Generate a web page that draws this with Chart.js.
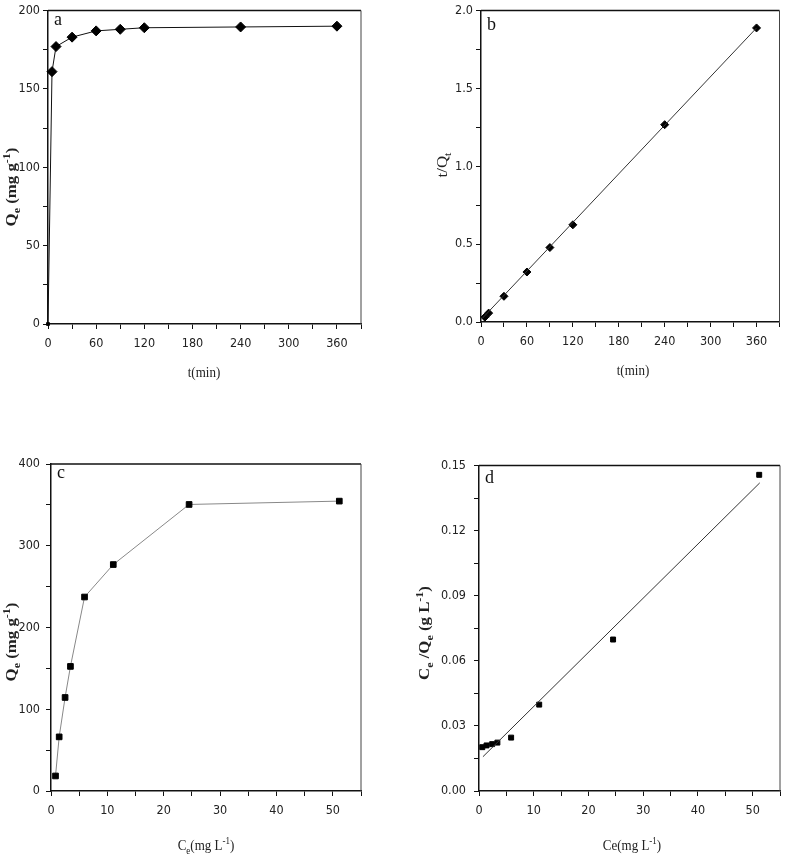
<!DOCTYPE html>
<html><head><meta charset="utf-8">
<script src="https://cdn.jsdelivr.net/npm/chart.js@4.4.1/dist/chart.umd.min.js"></script>
<style>
html,body{margin:0;padding:0;background:#fff;width:787px;height:856px;overflow:hidden;position:relative}
canvas{position:absolute}
</style></head><body>
<canvas id="ca" width="397" height="385" style="left:-2px;top:0px"></canvas>
<canvas id="cb" width="360" height="385" style="left:427px;top:0px"></canvas>
<canvas id="cc" width="398" height="406" style="left:-3px;top:450px"></canvas>
<canvas id="cd" width="373" height="406" style="left:414px;top:450px"></canvas>
<script>
// ---- data ----
const timeMin      = [0, 5, 10, 30, 60, 90, 120, 240, 360];
const qtKinetic    = [0, 161, 177, 183, 187, 188, 189, 189.5, 190];
const timeLinear   = [5, 10, 30, 60, 90, 120, 240, 360];
const tOverQt      = [0.031, 0.057, 0.165, 0.321, 0.478, 0.624, 1.267, 1.888];
const fitB_t       = [2, 360];
const fitB_y       = [0.025, 1.888];
const ceIso        = [0.8, 1.45, 2.5, 3.45, 5.95, 11.05, 24.5, 51.15];
const qeIso        = [18.4, 66.2, 114.4, 152.4, 237.3, 277, 350.5, 354.6];
const ceLang       = [0.6, 1.38, 2.4, 3.36, 5.87, 11.0, 24.5, 51.2];
const ceOverQe     = [0.0202, 0.021, 0.0216, 0.0223, 0.0246, 0.0398, 0.0698, 0.1457];
const fitD_x       = [0.72, 51.3];
const fitD_y       = [0.0158, 0.142];
// tick labels
const timeTickLabels = [0, 60, 120, 180, 240, 300, 360];
const qaTickLabels   = [0, 50, 100, 150, 200];
const tqTickLabels   = [0, 0.5, 1.0, 1.5, 2.0];
const ceTickLabels   = [0, 10, 20, 30, 40, 50];
const qcTickLabels   = [0, 100, 200, 300, 400];
const cqTickLabels   = [0, 0.03, 0.06, 0.09, 0.12, 0.15];

const pts = (xs, ys) => xs.map((x, i) => ({x, y: ys[i]}));

const SERIF = "'Liberation Serif','Times New Roman',serif";
const NARROW = "'Liberation Sans Narrow','Arial Narrow','DejaVu Sans Condensed','Liberation Sans',Arial,sans-serif";

// draws a title made of normal / subscript / superscript runs
function drawRich(ctx, t) {
  const main = t.size, small = Math.round(t.size * 0.68);
  const w = t.bold ? 'bold ' : '';
  const fontOf = s => w + (s === 'n' ? main : small) + 'px ' + SERIF;
  let total = 0;
  const widths = t.segs.map(([txt, s]) => { ctx.font = fontOf(s); const m = ctx.measureText(txt).width; total += m; return m; });
  ctx.save();
  ctx.translate(t.cx, t.cy);
  ctx.rotate(t.rot || 0);
  ctx.scale(t.sx || 1, t.sy || 1);
  ctx.fillStyle = '#222';
  ctx.textBaseline = 'alphabetic';
  ctx.textAlign = 'left';
  let x = -total / 2;
  const base = main * 0.35;
  t.segs.forEach(([txt, s], i) => {
    ctx.font = fontOf(s);
    const dy = s === 'sub' ? main * 0.28 : s === 'sup' ? -main * 0.42 : 0;
    ctx.fillText(txt, x, base + dy);
    x += widths[i];
  });
  ctx.restore();
}

const framePlugin = {
  id: 'frame',
  afterDraw(chart, args, o) {
    const {ctx, chartArea: {left, top, right, bottom}} = chart;
    ctx.save();
    ctx.strokeStyle = '#111'; ctx.lineWidth = 1.5;
    ctx.beginPath(); ctx.moveTo(left, top); ctx.lineTo(right, top); ctx.stroke();
    ctx.strokeStyle = '#444'; ctx.lineWidth = 1;
    ctx.beginPath(); ctx.moveTo(right, top); ctx.lineTo(right, bottom); ctx.stroke();
    ctx.fillStyle = '#111';
    ctx.font = '18px ' + SERIF;
    ctx.textBaseline = 'alphabetic';
    ctx.fillText(o.text, left + 6, top + o.dy);
    const ox = o.offX, oy = o.offY;
    o.titles.forEach(t => drawRich(ctx, Object.assign({}, t, {cx: t.cx - ox, cy: t.cy - oy})));
    ctx.restore();
  }
};

function stepTicks(min, max, step) {
  const out = [];
  const n = Math.round((max - min) / step);
  for (let i = 0; i <= n; i++) out.push({value: +(min + i * step).toFixed(6)});
  return out;
}

function makeAxis(c) {
  return {
    type: 'linear', position: c.pos, min: c.min, max: c.max,
    afterFit: s => { if (c.pos === 'bottom') s.height = c.size; else s.width = c.size; },
    afterBuildTicks: s => { s.ticks = stepTicks(c.min, c.max, c.step); },
    border: {display: true, color: '#111', width: 1.5},
    grid: {display: true, drawOnChartArea: false, drawTicks: true, tickLength: 5, tickColor: '#111', tickWidth: 1},
    ticks: {
      autoSkip: false, maxRotation: 0, minRotation: 0, padding: c.tpad,
      color: '#222', font: {family: NARROW, size: 12.5},
      callback: v => c.labels.some(l => Math.abs(l - v) < 1e-6) ? c.fmt(v) : ''
    },
    title: {display: false}
  };
}

function build(id, c) {
  const el = document.getElementById(id);
  return new Chart(el, {
    type: 'scatter',
    data: {datasets: c.datasets},
    options: {
      responsive: false, animation: false, devicePixelRatio: 1,
      layout: {padding: c.pad},
      plugins: {legend: {display: false}, tooltip: {enabled: false},
        frame: {text: c.tag, dy: c.tagDy, titles: c.titles,
                offX: parseFloat(el.style.left), offY: parseFloat(el.style.top)}},
      scales: {x: makeAxis(c.x), y: makeAxis(c.y)}
    },
    plugins: [framePlugin]
  });
}

const UP = -Math.PI / 2;

// Panel a
build('ca', {
  tag: 'a', tagDy: 14,
  pad: {left: 0, top: 7, right: 34, bottom: 0},
  datasets: [{
    data: pts(timeMin, qtKinetic), showLine: true, borderColor: '#111', borderWidth: 1,
    backgroundColor: '#000', pointBorderColor: '#000',
    pointStyle: timeMin.map((t, i) => i === 0 ? 'rect' : 'rectRot'),
    pointRadius: timeMin.map((t, i) => i === 0 ? 2 : 5), clip: false
  }],
  x: {pos: 'bottom', min: 0, max: 390, step: 30, labels: timeTickLabels, fmt: v => String(v), size: 61, tpad: 7.5},
  y: {pos: 'left', min: 0, max: 200, step: 25, labels: qaTickLabels, fmt: v => String(v), size: 50, tpad: 3},
  titles: [
    {segs: [['t(min)', 'n']], cx: 204, cy: 372, size: 13, sy: 1.15},
    {segs: [['Q', 'n'], ['e', 'sub'], [' (mg g', 'n'], ['-1', 'sup'], [')', 'n']], cx: 11, cy: 187, size: 14, bold: true, rot: UP, sx: 1.2}
  ]
});

// Panel b
build('cb', {
  tag: 'b', tagDy: 19,
  pad: {left: 0, top: 7, right: 1, bottom: 0},
  datasets: [
    {data: pts(fitB_t, fitB_y), showLine: true, borderColor: '#333', borderWidth: 1, pointRadius: 0},
    {data: pts(timeLinear, tOverQt), showLine: false, backgroundColor: '#000', pointBorderColor: '#000',
     pointStyle: 'rectRot', pointRadius: 4}
  ],
  x: {pos: 'bottom', min: 0, max: 390, step: 30, labels: timeTickLabels, fmt: v => String(v), size: 63, tpad: 7.5},
  y: {pos: 'left', min: 0, max: 2, step: 0.25, labels: tqTickLabels, fmt: v => v.toFixed(1), size: 54, tpad: 3},
  titles: [
    {segs: [['t(min)', 'n']], cx: 633, cy: 370, size: 13, sy: 1.15},
    {segs: [['t/Q', 'n'], ['t', 'sub']], cx: 442, cy: 165, size: 14, rot: UP, sx: 1.2}
  ]
});

// Panel c
build('cc', {
  tag: 'c', tagDy: 14,
  pad: {left: 0, top: 14, right: 34, bottom: 0},
  datasets: [{
    data: pts(ceIso, qeIso), showLine: true, borderColor: '#888', borderWidth: 1,
    backgroundColor: '#000', pointBorderColor: '#000', pointStyle: 'rect', pointRadius: 4
  }],
  x: {pos: 'bottom', min: 0, max: 55, step: 5, labels: ceTickLabels, fmt: v => String(v), size: 65, tpad: 7},
  y: {pos: 'left', min: 0, max: 400, step: 50, labels: qcTickLabels, fmt: v => String(v), size: 54, tpad: 6},
  titles: [
    {segs: [['C', 'n'], ['e', 'sub'], ['(mg L', 'n'], ['-1', 'sup'], [')', 'n']], cx: 206, cy: 845, size: 13, sy: 1.15},
    {segs: [['Q', 'n'], ['e', 'sub'], [' (mg g', 'n'], ['-1', 'sup'], [')', 'n']], cx: 11, cy: 642, size: 14, bold: true, rot: UP, sx: 1.2}
  ]
});

// Panel d
build('cd', {
  tag: 'd', tagDy: 17,
  pad: {left: 0, top: 14, right: 1, bottom: 0},
  datasets: [
    {data: pts(fitD_x, fitD_y), showLine: true, borderColor: '#333', borderWidth: 1, pointRadius: 0},
    {data: pts(ceLang, ceOverQe), showLine: false, backgroundColor: '#000', pointBorderColor: '#000',
     pointStyle: 'rect', pointRadius: 3.5}
  ],
  x: {pos: 'bottom', min: 0, max: 55, step: 5, labels: ceTickLabels, fmt: v => String(v), size: 65, tpad: 7},
  y: {pos: 'left', min: 0, max: 0.15, step: 0.015, labels: cqTickLabels, fmt: v => v.toFixed(2), size: 65, tpad: 8},
  titles: [
    {segs: [['Ce(mg L', 'n'], ['-1', 'sup'], [')', 'n']], cx: 632, cy: 845, size: 13, sy: 1.15},
    {segs: [['C', 'n'], ['e', 'sub'], [' /Q', 'n'], ['e', 'sub'], [' (g L', 'n'], ['-1', 'sup'], [')', 'n']], cx: 424, cy: 633, size: 14, bold: true, rot: UP, sx: 1.2}
  ]
});
</script>
</body></html>
